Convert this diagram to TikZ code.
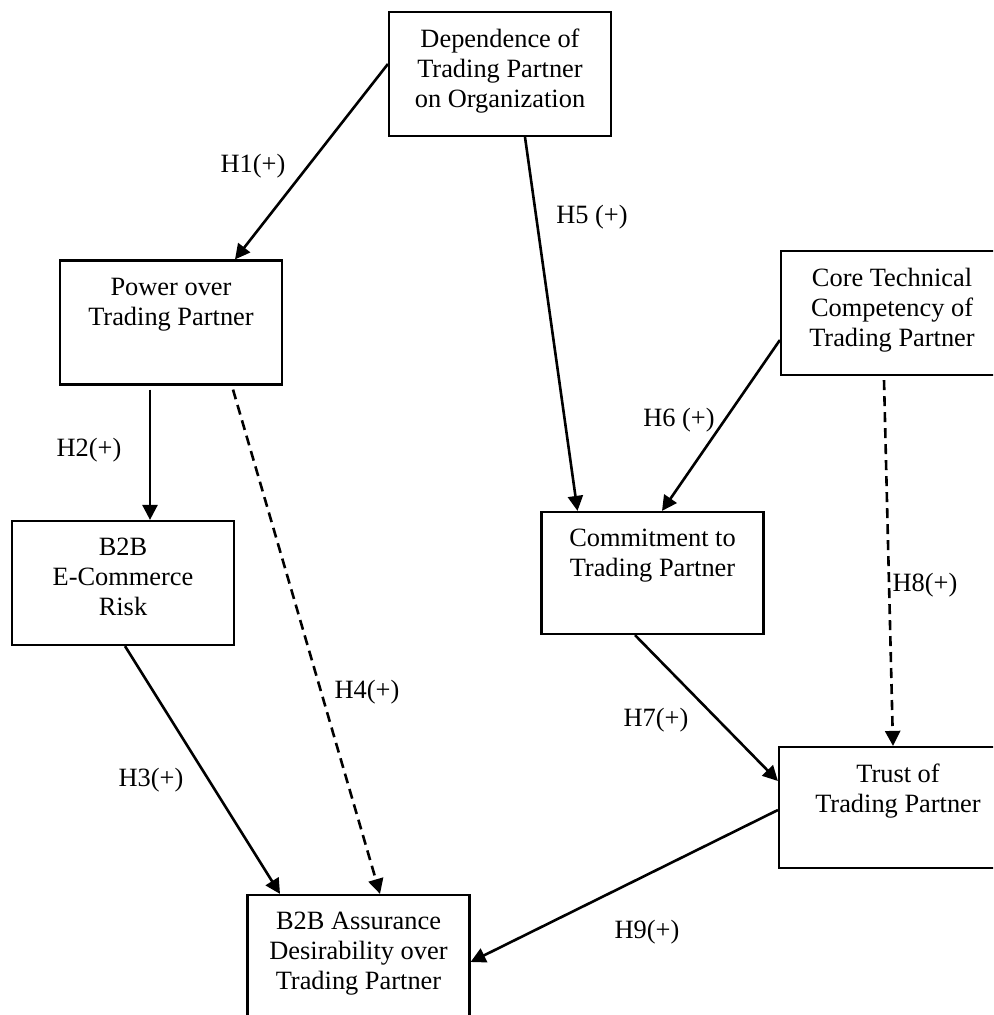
\documentclass[tikz,border=0pt]{standalone}
\usepackage{fontspec}
\setmainfont{Liberation Serif}
\usetikzlibrary{arrows.meta}

\begin{document}
\begin{tikzpicture}[x=0.5pt,y=-0.5pt,
    every node/.style={font=\fontsize{13.2pt}{15pt}\selectfont},
    box/.style={draw,line width=1.1pt,minimum width=111pt,minimum height=62pt,inner sep=0pt},
    txt/.style={anchor=north,align=center,inner sep=0pt,yshift=-9pt},
    arr/.style={line width=1.3pt,-{Triangle[length=7.5pt,width=7.5pt]}},
    dsh/.style={arr,dash pattern=on 5pt off 3pt}]
    \useasboundingbox (0,0) rectangle (993,1015);
    \clip (0,0) rectangle (993,1015);

    % constructs
    \node[box,label={[txt]north:{Dependence of\\Trading Partner\\on Organization}}] (dep) at (500,74) {};
    \node[box,label={[txt]north:{Power over\\Trading Partner}}] (pow) at (171,322.5) {};
    \node[box,label={[txt]north:{B2B\\E-Commerce\\Risk}}] (risk) at (123,583) {};
    \node[box,minimum height=61pt,label={[txt]north:{Commitment to\\Trading Partner}}] (com) at (652.5,573) {};
    \node[box,label={[txt]north:{Core Technical\\Competency of\\Trading Partner}}] (core) at (892,313) {};
    \node[box,minimum width=119pt,minimum height=60.5pt,label={[txt]north:{Trust of\\Trading Partner}}] (trust) at (898,807.5) {};
    \node[box,label={[txt]north:{B2B Assurance\\Desirability over\\Trading Partner}}] (assur) at (358.5,957) {};

    % hypotheses
    \draw[arr] ([yshift=5pt]dep.west) -- ([xshift=32pt]pow.north);
    \draw[arr] ([xshift=12.5pt]dep.south) -- ([xshift=-37.5pt]com.north);
    \draw[arr] ([yshift=-13.5pt]core.west) -- ([xshift=4.75pt]com.north);
    \draw[arr] ([xshift=-10.5pt,yshift=-2pt]pow.south) -- ([xshift=13.5pt]risk.north);
    \draw[dsh] ([xshift=31pt,yshift=-2pt]pow.south) -- ([xshift=10.75pt]assur.north);
    \draw[arr] ([xshift=1pt]risk.south) -- ([xshift=-39.25pt]assur.north);
    \draw[arr] ([xshift=-8.75pt]com.south) -- ([yshift=13.25pt]trust.west);
    \draw[dsh] ([xshift=-4pt,yshift=-2pt]core.south) -- ([xshift=-2.5pt]trust.north);
    \draw[arr] ([yshift=-1.25pt]trust.west) -- ([yshift=-2.5pt]assur.east);

    \node (h1) at (253,166) {H1(+)};
    \node (h5) at (592,217) {H5 (+)};
    \node (h6) at (679,420) {H6 (+)};
    \node (h2) at (89,450) {H2(+)};
    \node (h8) at (925,585) {H8(+)};
    \node (h4) at (367,692) {H4(+)};
    \node (h7) at (656,720) {H7(+)};
    \node (h3) at (151,780) {H3(+)};
    \node (h9) at (647,932) {H9(+)};
\end{tikzpicture}
\end{document}
